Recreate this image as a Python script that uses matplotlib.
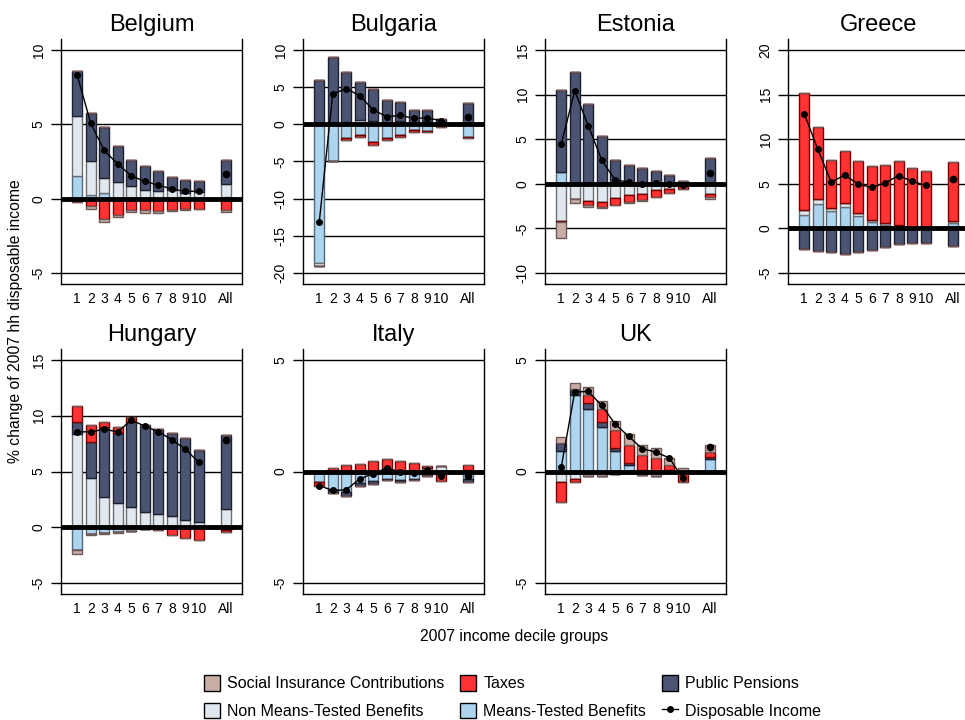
import numpy as np
import matplotlib
matplotlib.use("Agg")
import matplotlib.pyplot as plt
from matplotlib.patches import Patch
from matplotlib.lines import Line2D

plt.rcParams['font.family'] = ['Liberation Sans', 'DejaVu Sans']

# decile groups (1..10) and the "All" bar
groups = ['1', '2', '3', '4', '5', '6', '7', '8', '9', '10', 'All']
positions = [1, 2, 3, 4, 5, 6, 7, 8, 9, 10, 12]

# --- Belgium ---
be_mtb = [1.5, 0.27, 0.38, 0.05, 0.03, 0.02, 0.02, 0.02, 0.1, 0.05, 0.1]
be_nmtb = [4.07, 2.28, 1.01, 1.05, 0.8, 0.54, 0.47, 0.54, 0.28, 0.38, 0.88]
be_pens = [3.03, 3.2, 3.46, 2.46, 1.74, 1.63, 1.37, 0.89, 0.87, 0.76, 1.59]
be_tax = [-0.25, -0.47, -1.35, -1.07, -0.74, -0.78, -0.8, -0.78, -0.69, -0.67, -0.74]
be_sic = [0, -0.2, -0.25, -0.16, -0.18, -0.2, -0.16, -0.05, -0.05, -0.02, -0.13]
be_di = [8.3, 5.08, 3.24, 2.33, 1.54, 1.16, 0.92, 0.65, 0.49, 0.51, 1.66]

# --- Bulgaria ---
bg_mtb = [-18.7, -4.97, -1.9, -1.45, -2.33, -1.9, -1.45, -0.76, -0.85, -0.1, -1.75]
bg_nmtb = [-0.4, 0.0, 0.3, 0.6, 0.5, 0.2, 0.4, 0.1, 0.5, 0.0, 0.2]
bg_pens = [5.96, 9.0, 6.7, 5.05, 4.2, 3.07, 2.56, 1.83, 1.43, 0.72, 2.7]
bg_tax = [0, 0, -0.15, -0.3, -0.45, -0.2, -0.3, -0.32, -0.2, -0.3, -0.13]
bg_sic = [0, 0, 0, 0, 0, 0, 0, 0, 0, 0, 0]
bg_di = [-13.2, 4.08, 4.8, 3.86, 1.93, 1.03, 1.2, 0.8, 0.85, 0.5, 1.03]

# --- Estonia ---
ee_mtb = [1.34, 0, 0, 0, 0, 0, 0, 0, 0, 0, 0]
ee_nmtb = [-4.2, -1.75, -1.98, -2.05, -1.6, -1.27, -1.16, -0.7, -0.6, -0.26, -1.16]
ee_pens = [9.22, 12.57, 8.96, 5.34, 2.72, 2.16, 1.75, 1.46, 0.97, 0.37, 2.84]
ee_tax = [-0.05, 0, -0.41, -0.6, -0.75, -0.78, -0.67, -0.76, -0.48, -0.37, -0.37]
ee_sic = [-1.85, -0.35, -0.18, -0.05, -0.05, -0.05, -0.05, -0.05, 0, 0, -0.22]
ee_di = [4.44, 10.4, 6.53, 2.65, 0.41, 0.22, 0.0, 0.07, -0.07, -0.1, 1.23]

# --- Greece ---
gr_mtb = [1.46, 2.72, 1.94, 2.39, 1.42, 0.75, 0.34, 0.26, 0.1, 0.05, 0.63]
gr_nmtb = [0.63, 0.56, 0.3, 0.45, 0.3, 0.25, 0.22, 0.11, 0.0, 0.0, 0.19]
gr_pens = [-2.3, -2.54, -2.65, -2.87, -2.69, -2.43, -2.05, -1.79, -1.64, -1.64, -2.01]
gr_tax = [13.11, 8.12, 5.48, 5.89, 5.89, 6.05, 6.6, 7.24, 6.65, 6.41, 6.68]
gr_sic = [0, 0, 0, 0, 0, 0, 0, 0, 0, 0, 0]
gr_di = [12.87, 8.9, 5.19, 5.97, 4.96, 4.59, 5.11, 5.93, 5.26, 4.85, 5.52]

# --- Hungary ---
hu_mtb = [-2.0, -0.6, -0.54, -0.45, -0.3, -0.15, -0.1, -0.1, -0.1, -0.1, -0.2]
hu_nmtb = [8.36, 4.39, 2.69, 2.18, 1.79, 1.4, 1.19, 0.98, 0.66, 0.45, 1.64]
hu_pens = [1.1, 3.28, 6.31, 6.24, 7.61, 7.76, 7.61, 7.47, 7.34, 6.48, 6.63]
hu_tax = [1.41, 1.52, 0.4, 0.54, 0.5, 0, -0.14, -0.59, -0.88, -1.03, -0.2]
hu_sic = [-0.39, -0.05, -0.05, -0.03, 0, 0, 0, 0, 0, 0, 0]
hu_di = [8.57, 8.54, 8.8, 8.54, 9.61, 9.07, 8.57, 7.85, 7.01, 5.82, 7.82]

# --- Italy ---
it_mtb = [-0.48, -0.85, -0.93, -0.52, -0.43, -0.33, -0.4, -0.33, 0.0, -0.1, -0.33]
it_nmtb = [0, 0, 0, 0, 0, 0, 0, 0, 0.15, 0.24, 0.05]
it_pens = [0, -0.12, -0.16, -0.11, -0.15, -0.07, -0.08, -0.07, -0.18, 0, -0.12]
it_tax = [-0.19, 0.15, 0.3, 0.34, 0.49, 0.57, 0.46, 0.39, 0.1, -0.33, 0.25]
it_sic = [0, 0, 0, 0, 0, 0, 0, 0, 0, 0, 0]
it_di = [-0.63, -0.85, -0.82, -0.33, -0.1, 0.16, -0.03, -0.06, 0.07, -0.21, -0.18]

# --- UK ---
uk_mtb = [0.91, 3.41, 2.81, 1.99, 0.91, 0.27, 0.05, 0.03, 0.05, 0, 0.55]
uk_nmtb = [-0.46, -0.33, -0.21, -0.21, -0.1, -0.05, -0.15, -0.18, 0, 0, 0]
uk_pens = [0.36, 0.28, 0.25, 0.22, 0.14, 0.12, 0, -0.02, 0, 0, 0.12]
uk_tax = [-0.89, -0.12, 0.38, 0.6, 0.79, 0.81, 0.67, 0.58, 0.22, -0.45, 0.2]
uk_sic = [0.27, 0.29, 0.34, 0.37, 0.42, 0.46, 0.45, 0.45, 0.34, 0.15, 0.3]
uk_di = [0.19, 3.56, 3.59, 2.96, 2.12, 1.57, 1.02, 0.87, 0.61, -0.3, 1.09]

countries = ['Belgium', 'Bulgaria', 'Estonia', 'Greece', 'Hungary', 'Italy', 'UK']
components = {
    'Belgium': (be_mtb, be_nmtb, be_pens, be_tax, be_sic, be_di),
    'Bulgaria': (bg_mtb, bg_nmtb, bg_pens, bg_tax, bg_sic, bg_di),
    'Estonia': (ee_mtb, ee_nmtb, ee_pens, ee_tax, ee_sic, ee_di),
    'Greece': (gr_mtb, gr_nmtb, gr_pens, gr_tax, gr_sic, gr_di),
    'Hungary': (hu_mtb, hu_nmtb, hu_pens, hu_tax, hu_sic, hu_di),
    'Italy': (it_mtb, it_nmtb, it_pens, it_tax, it_sic, it_di),
    'UK': (uk_mtb, uk_nmtb, uk_pens, uk_tax, uk_sic, uk_di),
}
y_ranges = {
    'Belgium': (-5, 10), 'Bulgaria': (-20, 10), 'Estonia': (-10, 15),
    'Greece': (-5, 20), 'Hungary': (-5, 15), 'Italy': (-5, 5), 'UK': (-5, 5),
}

# fill / edge colours in stacking order: MTB, NMTB, pensions, taxes, SIC
fills = ['#AED5F0', '#E1E8ED', '#4B5573', '#FF3333', '#C9ADA7']
edges = ['#55697a', '#6b6f73', '#1c2030', '#7a0000', '#6e5a56']
names = ['Means-Tested Benefits', 'Non Means-Tested Benefits', 'Public Pensions',
         'Taxes', 'Social Insurance Contributions']

fig = plt.figure(figsize=(9.65, 7.2), dpi=100)
W, H = 965, 720
col_left = [61, 303, 545, 788]
row_top = [39, 349]
ax_w, ax_h = 181, 245

x = np.array(positions, dtype=float)
for i, c in enumerate(countries):
    r, k = divmod(i, 4)
    ax = fig.add_axes([col_left[k] / W, (H - row_top[r] - ax_h) / H, ax_w / W, ax_h / H])
    lo, hi = y_ranges[c]
    span = hi - lo
    ax.set_ylim(lo - 0.049 * span, hi + 0.049 * span)
    ax.set_xlim(-0.2, 13.2)
    ticks = np.arange(lo, hi + 1, 5)
    for t in ticks:
        if t != 0:
            ax.axhline(t, color='black', lw=1, zorder=1)

    vals = components[c]
    pos_base = np.zeros(len(x))
    neg_base = np.zeros(len(x))
    for j in range(5):
        v = np.array(vals[j], dtype=float)
        vp = np.where(v > 0, v, 0)
        vn = np.where(v < 0, v, 0)
        ax.bar(x, vp, 0.75, bottom=pos_base, color=fills[j], edgecolor=edges[j], lw=1, zorder=2)
        ax.bar(x, vn, 0.75, bottom=neg_base, color=fills[j], edgecolor=edges[j], lw=1, zorder=2)
        pos_base += vp
        neg_base += vn

    ax.axhline(0, color='black', lw=3.5, zorder=3)
    di = vals[5]
    ax.plot(x[:10], di[:10], color='black', lw=1, marker='o', ms=4, zorder=4)
    ax.plot(x[10:], di[10:], color='black', lw=0, marker='o', ms=4.5, zorder=4)

    ax.set_yticks(ticks)
    ax.set_yticklabels([str(int(t)) for t in ticks], rotation=90, va='center', fontsize=10)
    ax.set_xticks(x)
    ax.set_xticklabels(groups, fontsize=10)
    ax.tick_params(axis='x', length=0, pad=6)
    ax.tick_params(axis='y', length=7, width=1, pad=4)
    ax.spines['top'].set_visible(False)
    for s in ['left', 'bottom', 'right']:
        ax.spines[s].set_linewidth(1)
    ax.set_title(c, fontsize=17, pad=6)

fig.text(16 / W, 1 - 321 / H, '% change of 2007 hh disposable income', rotation=90,
         ha='center', va='center', fontsize=11.3)
fig.text(514 / W, 1 - 636 / H, '2007 income decile groups', ha='center', va='center', fontsize=11.3)

handles = {n: Patch(facecolor=f, edgecolor='black', lw=1) for n, f in zip(names, fills)}
di_handle = Line2D([], [], color='black', lw=1, marker='o', ms=4)
order = ['Social Insurance Contributions', 'Non Means-Tested Benefits', 'Taxes',
         'Means-Tested Benefits', 'Public Pensions']
leg_h = [handles[n] for n in order] + [di_handle]
leg_l = order + ['Disposable Income']
fig.legend(leg_h, leg_l, ncol=3, loc='center', bbox_to_anchor=(512.5 / W, 1 - 697 / H),
           frameon=False, fontsize=11.5, handlelength=1.0, handleheight=1.15,
           handletextpad=0.45, columnspacing=1.0, labelspacing=0.7,
           borderpad=0.2)

fig.savefig('out.png', dpi=100)
